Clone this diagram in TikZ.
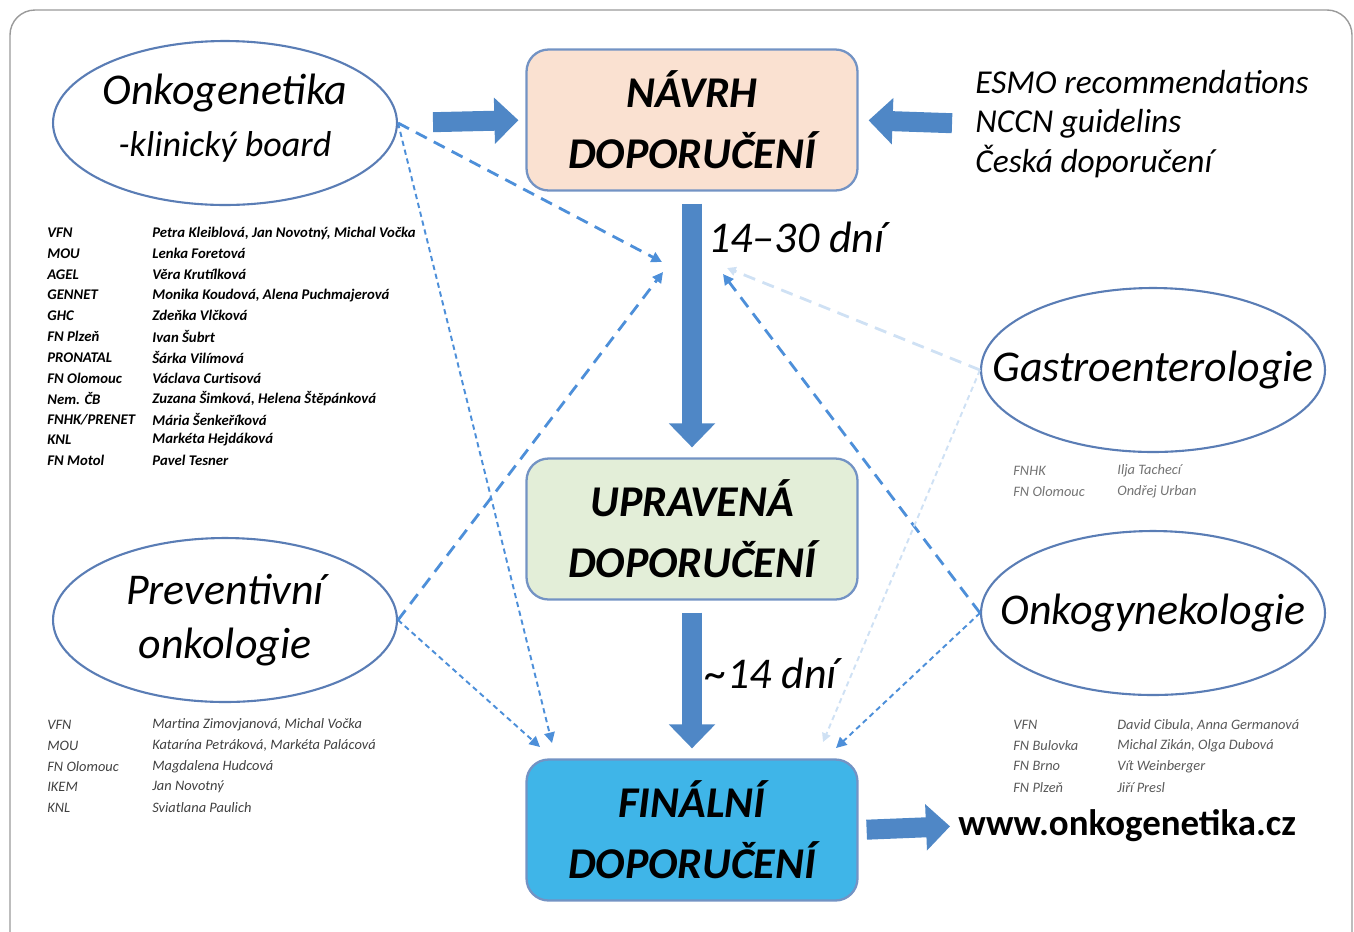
\documentclass[tikz,border=0pt]{standalone}
\usepackage{fontspec}
\setmainfont{Carlito}
\usetikzlibrary{arrows.meta,shapes.geometric}

\definecolor{navrhfill}{HTML}{FAE1D1}
\definecolor{upravfill}{HTML}{E3EED8}
\definecolor{finalfill}{HTML}{3FB5E8}
\definecolor{boxline}{HTML}{7393C4}
\definecolor{ellline}{HTML}{5A7DB5}
\definecolor{fatblue}{HTML}{4F87C6}
\definecolor{dashblue}{HTML}{4D8FD9}
\definecolor{paleblue}{HTML}{CFE1F4}
\definecolor{framegray}{HTML}{9A9A9A}

\begin{document}
\begin{tikzpicture}[x=0.02cm,y=-0.02cm,>={Triangle[length=6pt,width=6pt]},
  ell/.style={ellipse,draw=ellline,line width=1.2pt,minimum width=6.88cm,minimum height=3.28cm,inner sep=0pt},
  elltext/.style={align=center,font=\fontsize{25}{30.6}\selectfont\itshape},
  box/.style={draw=boxline,line width=1.3pt,rounded corners=0.44cm,minimum width=6.62cm,minimum height=2.82cm,align=center,font=\fontsize{25}{34.6}\selectfont\bfseries\itshape},
  fat/.style={draw=fatblue,line width=0.4cm,-{Triangle[length=0.48cm,width=0.9cm]}},
  link/.style={->,draw=dashblue,line width=1.6pt,dash pattern=on 7pt off 4.5pt},
  dotlink/.style={->,draw=dashblue,line width=1.1pt,dash pattern=on 3pt off 2.2pt},
  pale/.style={draw=paleblue,>={Triangle[length=5pt,width=5pt,fill=paleblue]}},
  listtext/.style={anchor=west,inner sep=0pt,font=\fontsize{8.2}{9}\selectfont\itshape}]

\useasboundingbox (0,0) rectangle (1354,931);
\draw[framegray,line width=0.8pt,rounded corners=0.5cm] (10,10) rectangle (1352,960);

% main column
\node[box,fill=navrhfill]   (navrh)   at (692,120)  {NÁVRH\\DOPORUČENÍ};
\node[box,fill=upravfill]   (uprav)   at (692,529)  {UPRAVENÁ\\DOPORUČENÍ};
\node[box,fill=finalfill]   (final)   at (692,830)  {FINÁLNÍ\\DOPORUČENÍ};

\node[ell] (onko)   at (225,123) {};
\node[elltext] (onkot) at (225,93) {Onkogenetika};
\node[elltext,font=\fontsize{20.5}{24}\selectfont\itshape] (onkob) at (225,147) {-klinický board};
\node[ell] (prev)   at (225,620) {};
\node[elltext] (prevt) at (prev) {Preventivní\\onkologie};
\node[ell] (gastro) at (1153,370) {};
\node[elltext] (gastrot) at (gastro) {Gastroenterologie};
\node[ell] (gyn)    at (1153,613) {};
\node[elltext] (gynt) at (gyn) {Onkogynekologie};

\node[anchor=west,inner sep=0pt,align=left,font=\fontsize{19}{22.7}\selectfont\itshape] (guide) at (975,124)
  {ESMO recommendations\\NCCN guidelins\\Česká doporučení};
\node[anchor=west,inner sep=0pt,font=\fontsize{21}{24}\selectfont\bfseries] (web) at (958,826) {www.onkogenetika.cz};
\node[anchor=west,inner sep=0pt,font=\fontsize{25}{28}\selectfont\itshape] (t1) at (708,237) {14–30 dní};
\node[anchor=west,inner sep=0pt,font=\fontsize{25}{28}\selectfont\itshape] (t2) at (705,673) {\textasciitilde14 dní};

% block arrows
\draw[fat,shorten <=0.7cm,shorten >=0.14cm] (onko.east) -- (navrh.west);
\draw[fat,shorten <=0.46cm,shorten >=0.2cm] (guide.west) -- (navrh.east);
\draw[fat,shorten <=0.24cm,shorten >=0.2cm] (navrh.south) -- (uprav.north);
\draw[fat,shorten <=0.24cm,shorten >=0.2cm] (uprav.south) -- (final.north);
\draw[fat,shorten <=0.16cm,shorten >=0.16cm] (final.east) -- (web.west);

% ends of the comment links
\coordinate (in1) at (662,262);
\coordinate (in2) at (663,272);
\coordinate (in3) at (723,274);
\coordinate (in4) at (727,268);
\coordinate (out1) at (552,743);
\coordinate (out2) at (540,747);
\coordinate (out3) at (836,748);
\coordinate (out4) at (823,742);

\path (onko.east)   edge[link]    (in1)
                    edge[dotlink] (out1)
      (prev.east)   edge[link]    (in2)
                    edge[dotlink] (out2)
      (gyn.west)    edge[link]    (in3)
                    edge[dotlink] (out3)
      (gastro.west) edge[link,pale]    (in4)
                    edge[dotlink,pale] (out4);

% members
\foreach \org/\who [count=\i from 0] in {VFN/{Petra Kleiblová, Jan Novotný, Michal Vočka},MOU/Lenka Foretová,AGEL/Věra Krutílková,
    GENNET/{Monika Koudová, Alena Puchmajerová},GHC/Zdeňka Vlčková,FN Plzeň/Ivan Šubrt,PRONATAL/Šárka Vilímová,
    FN Olomouc/Václava Curtisová,Nem. ČB/{Zuzana Šimková, Helena Štěpánková},{FNHK/PRENET}/Mária Šenkeříková,
    KNL/Markéta Hejdáková,FN Motol/Pavel Tesner}
  {\node[listtext,font=\fontsize{8.4}{9}\selectfont\bfseries\itshape] (lo\i) at (47,{233+20.7*\i}) {\org};
   \node[listtext,font=\fontsize{8.4}{9}\selectfont\bfseries\itshape] (lw\i) at (152,{233+20.7*\i}) {\who};}

\foreach \org/\who [count=\i from 0] in {VFN/{Martina Zimovjanová, Michal Vočka},MOU/{Katarína Petráková, Markéta Palácová},
    FN Olomouc/Magdalena Hudcová,IKEM/Jan Novotný,KNL/Sviatlana Paulich}
  {\node[listtext,text=black!75] (po\i) at (47,{725+20.7*\i}) {\org};
   \node[listtext,text=black!75] (pw\i) at (152,{725+20.7*\i}) {\who};}

\foreach \org/\who [count=\i from 0] in {FNHK/Ilja Tachecí,FN Olomouc/Ondřej Urban}
  {\node[listtext,text=black!55] (go\i) at (1013,{471+20.7*\i}) {\org};
   \node[listtext,text=black!55] (gw\i) at (1117,{471+20.7*\i}) {\who};}

\foreach \org/\who [count=\i from 0] in {VFN/{David Cibula, Anna Germanová},FN Bulovka/{Michal Zikán, Olga Dubová},
    FN Brno/Vít Weinberger,FN Plzeň/Jiří Presl}
  {\node[listtext,text=black!65] (yo\i) at (1013,{725+20.7*\i}) {\org};
   \node[listtext,text=black!65] (yw\i) at (1117,{725+20.7*\i}) {\who};}

\end{tikzpicture}
\end{document}
